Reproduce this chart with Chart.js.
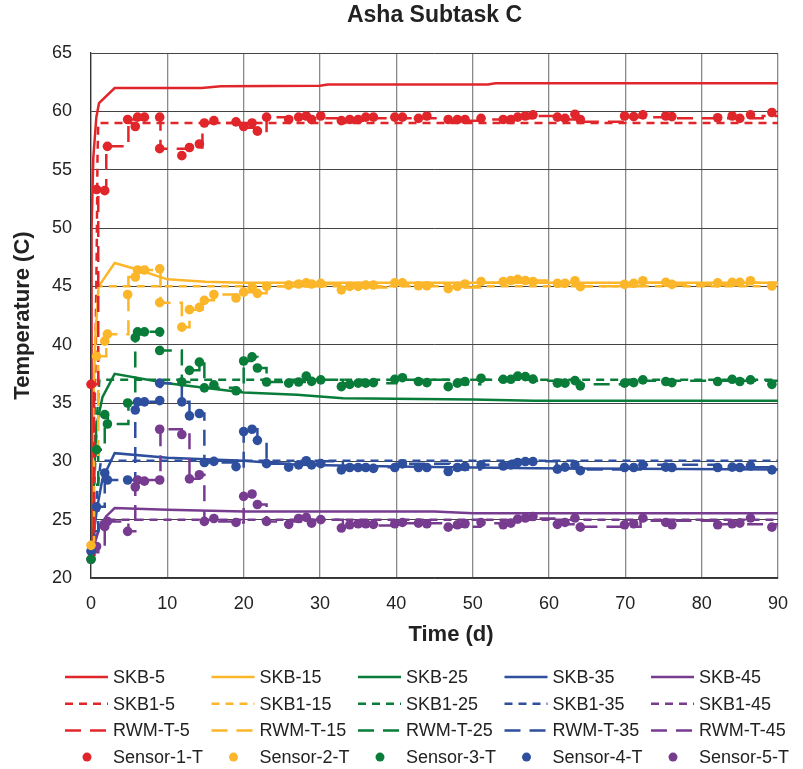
<!DOCTYPE html>
<html>
<head>
<meta charset="utf-8">
<title>Asha Subtask C</title>
<script src="https://cdn.jsdelivr.net/npm/chart.js@4.4.1/dist/chart.umd.min.js"></script>
<style>
	body { margin: 0; background: #fff; }
	canvas { display: block; }
</style>
</head>
<body>
<canvas id="chart" width="803" height="769"></canvas>
<script>
var depths = ['5', '15', '25', '35', '45'];
var colors = ['#E1262B', '#FBB62A', '#0A7C3A', '#2E4E9E', '#773B8F'];

// SKB model (solid), [day, temperature]
var skb5 = [[0,22],[0.05,38],[0.1,50],[0.3,56],[0.7,59.5],[1.05,60.7],[3.1,62],[14.5,62],[17,62.15],[30,62.2],[31,62.3],[52,62.3],[53,62.4],[90,62.4]];
var skb15 = [[0,22],[0.15,30],[0.35,36],[0.6,41],[1.0,45],[3.1,47],[6.3,46.4],[10,45.6],[15,45.4],[20,45.3],[90,45.3]];
var skb25 = [[0,22],[0.3,27],[0.7,33],[1.5,35.5],[3.1,37.5],[10,36.7],[20,35.9],[27,35.7],[33,35.4],[50,35.3],[58,35.2],[90,35.2]];
var skb35 = [[0,22],[0.4,24],[0.8,26],[1.5,28.5],[3.1,30.7],[10,30.3],[20,30.05],[27,29.7],[40,29.55],[58,29.4],[90,29.3]];
var skb45 = [[0,22],[0.5,23],[1.15,24.4],[2,25.3],[3.1,26],[10,25.85],[20,25.7],[45,25.7],[50,25.55],[90,25.55]];

// SKB1 model (short dash)
var skb1_5 = [[0,22],[0.5,35],[0.75,48],[0.85,56],[0.95,59],[90,59]];
var skb1_15 = [[0,22],[0.4,33],[0.65,40],[0.8,45],[90,45]];
var skb1_25 = [[0,22],[0.5,29],[0.8,34],[1.1,37],[90,37]];
var skb1_35 = [[0,22],[0.5,25],[0.9,28],[1.3,30.05],[90,30.05]];
var skb1_45 = [[0,22],[0.5,23.3],[1,24.3],[1.5,25],[90,25]];

// RWM-T model (long dash, stepped)
var rwm5 = [[0,22],[0.4,36.6],[0.95,53.3],[2.0,57.0],[4.9,59.3],[9.1,56.8],[12.6,56.9],[14.6,59.0],[20.0,58.6],[21.9,58.2],[23.0,59.5],[27,59.4],[33,59.2],[36,59.4],[46.5,59.2],[51,59.3],[55.5,59.4],[58,59.6],[61,59.3],[64,59.1],[70,59.5],[76,59.4],[82,59.4],[88,59.6],[90,59.6]];
var rwm15 = [[0,22.5],[0.4,30],[0.95,39.0],[2.0,40.9],[4.9,45.8],[6.0,46.4],[9.1,43.6],[11.9,41.5],[12.9,43.0],[14.6,43.8],[16.1,44.3],[20.0,44.5],[21.1,44.9],[21.9,44.4],[23.0,45.0],[30,45.2],[33,44.9],[40,45.2],[47,44.9],[51,45.3],[55,45.5],[60,45.2],[64,45.0],[72,45.3],[76,45.1],[86,45.3],[90,45.0]];
var rwm25 = [[0,22],[0.4,28],[0.95,31.0],[1.8,34.0],[2.2,33.2],[4.9,35.0],[5.8,40.6],[6.1,41.1],[9.1,39.5],[11.9,36.8],[12.9,37.8],[14.2,38.5],[14.85,36.3],[19.0,36.05],[20.0,38.6],[21.1,38.95],[21.8,38.0],[23.0,36.8],[28,37.0],[33,36.7],[40,37.0],[47,36.6],[51,37.0],[58,36.9],[64,36.6],[72,36.9],[82,36.9],[90,36.8]];
var rwm35 = [[0,22],[0.4,24],[0.95,26.1],[1.8,29.0],[2.2,28.4],[4.9,28.4],[5.8,34.4],[6.1,35.1],[9.1,36.7],[11.9,35.1],[12.9,33.9],[14.2,34.1],[14.85,29.9],[19.0,29.55],[20.0,32.55],[21.1,32.75],[21.8,31.8],[23.0,29.8],[28,30.0],[33,29.5],[40,29.8],[47,29.3],[51,29.7],[56,30.0],[61,29.4],[64,29.3],[72,29.7],[82,29.5],[90,29.4]];
var rwm45 = [[0,21.8],[0.4,22.2],[0.95,22.7],[1.8,24.4],[2.2,24.85],[4.9,24.0],[5.8,27.8],[6.1,28.4],[9.1,32.75],[11.9,32.3],[12.9,28.5],[14.2,28.85],[14.85,24.85],[19.0,24.76],[20.0,27.0],[21.1,27.2],[21.8,26.3],[23.0,24.85],[28,25.0],[33,24.5],[40,24.7],[47,24.4],[51,24.7],[56,25.1],[61,24.6],[64,24.4],[72,24.9],[82,24.6],[90,24.4]];

// sensor readings, shared sample days
var sensorDays = [0,0.73,1.8,2.15,4.8,5.8,6.1,7.0,9.0,9.0,11.9,12.9,14.2,14.85,16.1,19.0,20.0,21.1,21.8,23.0,25.9,27.2,28.2,28.9,30.1,32.8,33.9,35.0,36.0,37.0,39.8,40.8,42.9,44.0,46.8,48.0,49.0,51.1,54.0,55.0,55.9,56.9,57.9,61.1,62.1,63.4,64.1,69.9,71.1,72.3,75.3,76.1,82.1,84.0,85.0,86.4,89.2];
var sensor1T = [36.6,53.3,53.2,57.0,59.3,58.7,59.5,59.5,59.5,56.8,56.2,56.9,57.2,59.0,59.2,59.1,58.7,59.0,58.3,59.5,59.3,59.5,59.6,59.3,59.6,59.2,59.3,59.3,59.5,59.5,59.5,59.5,59.4,59.6,59.3,59.3,59.3,59.4,59.3,59.3,59.5,59.6,59.7,59.5,59.4,59.75,59.3,59.6,59.55,59.7,59.6,59.55,59.45,59.6,59.4,59.7,59.9];
var sensor2T = [22.8,39.0,40.3,40.9,44.3,45.8,46.4,46.4,46.5,43.6,41.5,43.0,43.2,43.8,44.3,44.0,44.5,44.9,44.4,45.0,45.1,45.2,45.3,45.2,45.25,44.7,45.0,45.0,45.1,45.1,45.3,45.3,45.05,45.05,44.8,45.0,45.2,45.4,45.4,45.5,45.6,45.5,45.4,45.26,45.26,45.48,44.97,45.17,45.26,45.48,45.34,45.17,45.3,45.34,45.34,45.48,45.03];
var sensor3T = [21.6,31.0,34.0,33.2,35.0,40.6,41.1,41.1,41.1,39.5,36.8,37.8,38.5,36.3,36.55,36.05,38.6,38.95,38.0,36.8,36.7,36.8,37.3,36.85,36.98,36.4,36.6,36.7,36.7,36.75,37.03,37.17,36.84,36.75,36.4,36.7,36.84,37.12,37.03,37.03,37.3,37.26,37.05,36.7,36.7,36.92,36.47,36.7,36.75,36.98,36.84,36.75,36.84,37.03,36.84,36.98,36.6];
var sensor4T = [22.3,26.1,29.0,28.4,28.4,34.4,35.1,35.1,35.2,36.7,35.1,33.9,34.1,29.9,30.0,29.55,32.55,32.75,31.8,29.8,29.5,29.7,30.05,29.7,29.8,29.27,29.47,29.47,29.47,29.4,29.47,29.78,29.47,29.47,29.13,29.47,29.55,29.7,29.6,29.7,29.9,29.98,29.98,29.33,29.5,29.7,29.2,29.47,29.47,29.7,29.5,29.47,29.47,29.5,29.47,29.6,29.27];
var sensor5T = [21.6,22.7,24.4,24.85,24.0,27.8,28.4,28.3,28.4,32.75,32.3,28.5,28.85,24.85,25.1,24.76,27.0,27.2,26.3,24.85,24.6,25.1,25.2,24.7,25.0,24.28,24.56,24.65,24.65,24.6,24.65,24.76,24.7,24.65,24.36,24.56,24.65,24.76,24.56,24.7,25.05,25.14,25.27,24.6,24.76,25.14,24.36,24.56,24.65,25.14,24.76,24.56,24.56,24.65,24.7,25.14,24.36];

var skbSeries = [skb5, skb15, skb25, skb35, skb45];
var skb1Series = [skb1_5, skb1_15, skb1_25, skb1_35, skb1_45];
var rwmSeries = [rwm5, rwm15, rwm25, rwm35, rwm45];
var sensorSeries = [sensor1T, sensor2T, sensor3T, sensor4T, sensor5T];

var fontName = '"Liberation Sans", Arial, sans-serif';

function toPoints(pairs)
{
	return pairs.map(function(p) { return {x: p[0], y: p[1]}; });
}

function sensorPoints(temps)
{
	return temps.map(function(t, i) { return {x: sensorDays[i], y: t}; });
}

function buildDatasets()
{
	var sets = [];
	var i;
	for (i = 0; i < 5; i++)
	{
		sets.push({ label: 'SKB-' + depths[i], data: toPoints(skbSeries[i]), borderColor: colors[i],
			borderWidth: 2.5, pointRadius: 0, order: 2 });
	}
	for (i = 0; i < 5; i++)
	{
		sets.push({ label: 'SKB1-' + depths[i], data: toPoints(skb1Series[i]), borderColor: colors[i],
			borderWidth: 2.5, borderDash: [8, 6], pointRadius: 0, order: 2 });
	}
	for (i = 0; i < 5; i++)
	{
		sets.push({ label: 'RWM-T-' + depths[i], data: toPoints(rwmSeries[i]), borderColor: colors[i],
			borderWidth: 2.5, borderDash: [16, 9], stepped: true, pointRadius: 0, order: 1 });
	}
	for (i = 0; i < 5; i++)
	{
		sets.push({ label: 'Sensor-' + (i + 1) + '-T', data: sensorPoints(sensorSeries[i]), borderColor: colors[i],
			backgroundColor: colors[i], showLine: false, pointRadius: 4.8, pointBorderWidth: 0,
			clip: false, order: 0 });
	}
	return sets;
}

// legend drawn as a 5 x 4 grid below the plot, plus the x axis title
var gridLegend = {
	id: 'gridLegend',
	afterDraw: function(chart)
	{
		var ctx = chart.ctx;
		ctx.save();
		ctx.fillStyle = '#222';
		ctx.font = 'bold 22px ' + fontName;
		ctx.textAlign = 'center';
		ctx.textBaseline = 'middle';
		ctx.fillText('Time (d)', 451, 635);

		ctx.textAlign = 'left';
		ctx.font = '18px ' + fontName;
		chart.data.datasets.forEach(function(ds, i)
		{
			var row = Math.floor(i / 5);
			var col = i % 5;
			var x = 65 + col * 146.5;
			var y = 677 + row * 26.7;
			if (ds.showLine === false)
			{
				ctx.fillStyle = ds.backgroundColor;
				ctx.beginPath();
				ctx.arc(x + 22, y, 4.5, 0, Math.PI * 2);
				ctx.fill();
			}
			else
			{
				ctx.strokeStyle = ds.borderColor;
				ctx.lineWidth = 2.5;
				ctx.setLineDash(ds.borderDash || []);
				ctx.beginPath();
				ctx.moveTo(x, y);
				ctx.lineTo(x + 43, y);
				ctx.stroke();
				ctx.setLineDash([]);
			}
			ctx.fillStyle = '#222';
			ctx.fillText(ds.label, x + 48, y + 1);
		});
		ctx.restore();
	}
};

new Chart(document.getElementById('chart'), {
	type: 'line',
	data: { datasets: buildDatasets() },
	plugins: [gridLegend],
	options: {
		responsive: false,
		animation: false,
		devicePixelRatio: 1,
		layout: { padding: { left: 0, right: 12, top: 0, bottom: 121 } },
		elements: { line: { tension: 0, fill: false } },
		plugins: {
			legend: { display: false },
			tooltip: { enabled: false },
			title: {
				display: true,
				text: 'Asha Subtask C',
				fullSize: false,
				color: '#222',
				font: { family: fontName, size: 23, weight: 'bold' },
				padding: { top: 2, bottom: 23.4 }
			}
		},
		scales: {
			x: {
				type: 'linear',
				min: 0,
				max: 90,
				afterFit: function(scale) { scale.height = 70; },
				ticks: { stepSize: 10, color: '#222', padding: 15, font: { family: fontName, size: 18 } },
				grid: { color: '#8a8a8a', lineWidth: 1.3, drawTicks: false },
				border: { color: '#333', width: 1.3 },
				title: { display: false }
			},
			y: {
				min: 20,
				max: 65,
				afterFit: function(scale) { scale.width = 91; },
				ticks: { stepSize: 5, color: '#222', padding: 19, font: { family: fontName, size: 18 } },
				grid: { color: '#444', lineWidth: 1, drawTicks: false },
				border: { color: '#333', width: 1.3 },
				title: { display: true, text: 'Temperature (C)', color: '#222', padding: { top: 10, bottom: 0 },
					font: { family: fontName, size: 22, weight: 'bold' } }
			}
		}
	}
});
</script>
</body>
</html>
